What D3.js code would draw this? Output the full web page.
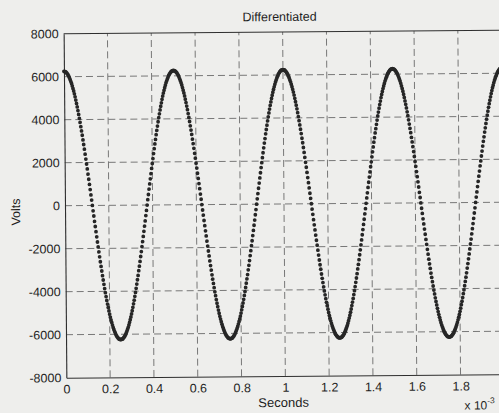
<!DOCTYPE html>
<html>
<head>
<meta charset="utf-8">
<script src="https://cdn.jsdelivr.net/npm/d3@7"></script>
<style>
    html, body { margin: 0; padding: 0; background: #eeeeec; overflow: hidden; }
    svg { display: block; }
</style>
</head>
<body>
<div id="chart"></div>
<script>
// axis ticks (seconds are in units of 10^-3); the "2" label falls off the scan
const xTicks = [0, 0.2, 0.4, 0.6, 0.8, 1, 1.2, 1.4, 1.6, 1.8, 2];
const xTickLabels = ["0", "0.2", "0.4", "0.6", "0.8", "1", "1.2", "1.4", "1.6", "1.8", ""];
const yTicks = [-8000, -6000, -4000, -2000, 0, 2000, 4000, 6000, 8000];
const yTickLabels = ["-8000", "-6000", "-4000", "-2000", "0", "2000", "4000", "6000", "8000"];

// time between two samples, x 10^-3 s
const sampleStep = 0.003125;

// sampled volts, one cycle (0.5 x 10^-3 s) per array
const cycle1 = [6250,6240,6230,6210,6170,6130,6080,6020,5940,5860,5770,5680,5570,5450,5330,5200,5060,4910,4750,4590,4420,4240,4060,3870,3670,3470,3270,3050,2840,2620,2390,2160,1930,1700,1460,1220,980,740,490,250,0,
    -250,-490,-740,-980,-1220,-1460,-1700,-1930,-2160,-2390,-2620,-2840,-3050,-3270,-3470,-3670,-3870,-4060,-4240,-4420,-4590,-4750,-4910,-5060,-5200,-5330,-5450,-5570,-5680,-5770,-5860,-5940,-6020,-6080,-6130,-6170,-6210,-6230,-6240,-6250,
    -6240,-6230,-6210,-6170,-6130,-6080,-6020,-5940,-5860,-5770,-5680,-5570,-5450,-5330,-5200,-5060,-4910,-4750,-4590,-4420,-4240,-4060,-3870,-3670,-3470,-3270,-3050,-2840,-2620,-2390,-2160,-1930,-1700,-1460,-1220,-980,-740,-490,-250,0,
    250,490,740,980,1220,1460,1700,1930,2160,2390,2620,2840,3050,3270,3470,3670,3870,4060,4240,4420,4590,4750,4910,5060,5200,5330,5450,5570,5680,5770,5860,5940,6020,6080,6130,6170,6210,6230,6240];
const cycle2 = [6250,6240,6230,6210,6170,6130,6080,6020,5940,5860,5770,5680,5570,5450,5330,5200,5060,4910,4750,4590,4420,4240,4060,3870,3670,3470,3270,3050,2840,2620,2390,2160,1930,1700,1460,1220,980,740,490,250,0,
    -250,-490,-740,-980,-1220,-1460,-1700,-1930,-2160,-2390,-2620,-2840,-3050,-3270,-3470,-3670,-3870,-4060,-4240,-4420,-4590,-4750,-4910,-5060,-5200,-5330,-5450,-5570,-5680,-5770,-5860,-5940,-6020,-6080,-6130,-6170,-6210,-6230,-6240,-6250,
    -6240,-6230,-6210,-6170,-6130,-6080,-6020,-5940,-5860,-5770,-5680,-5570,-5450,-5330,-5200,-5060,-4910,-4750,-4590,-4420,-4240,-4060,-3870,-3670,-3470,-3270,-3050,-2840,-2620,-2390,-2160,-1930,-1700,-1460,-1220,-980,-740,-490,-250,0,
    250,490,740,980,1220,1460,1700,1930,2160,2390,2620,2840,3050,3270,3470,3670,3870,4060,4240,4420,4590,4750,4910,5060,5200,5330,5450,5570,5680,5770,5860,5940,6020,6080,6130,6170,6210,6230,6240];
const cycle3 = [6250,6240,6230,6210,6170,6130,6080,6020,5940,5860,5770,5680,5570,5450,5330,5200,5060,4910,4750,4590,4420,4240,4060,3870,3670,3470,3270,3050,2840,2620,2390,2160,1930,1700,1460,1220,980,740,490,250,0,
    -250,-490,-740,-980,-1220,-1460,-1700,-1930,-2160,-2390,-2620,-2840,-3050,-3270,-3470,-3670,-3870,-4060,-4240,-4420,-4590,-4750,-4910,-5060,-5200,-5330,-5450,-5570,-5680,-5770,-5860,-5940,-6020,-6080,-6130,-6170,-6210,-6230,-6240,-6250,
    -6240,-6230,-6210,-6170,-6130,-6080,-6020,-5940,-5860,-5770,-5680,-5570,-5450,-5330,-5200,-5060,-4910,-4750,-4590,-4420,-4240,-4060,-3870,-3670,-3470,-3270,-3050,-2840,-2620,-2390,-2160,-1930,-1700,-1460,-1220,-980,-740,-490,-250,0,
    250,490,740,980,1220,1460,1700,1930,2160,2390,2620,2840,3050,3270,3470,3670,3870,4060,4240,4420,4590,4750,4910,5060,5200,5330,5450,5570,5680,5770,5860,5940,6020,6080,6130,6170,6210,6230,6240];
const cycle4 = [6250,6240,6230,6210,6170,6130,6080,6020,5940,5860,5770,5680,5570,5450,5330,5200,5060,4910,4750,4590,4420,4240,4060,3870,3670,3470,3270,3050,2840,2620,2390,2160,1930,1700,1460,1220,980,740,490,250,0,
    -250,-490,-740,-980,-1220,-1460,-1700,-1930,-2160,-2390,-2620,-2840,-3050,-3270,-3470,-3670,-3870,-4060,-4240,-4420,-4590,-4750,-4910,-5060,-5200,-5330,-5450,-5570,-5680,-5770,-5860,-5940,-6020,-6080,-6130,-6170,-6210,-6230,-6240,-6250,
    -6240,-6230,-6210,-6170,-6130,-6080,-6020,-5940,-5860,-5770,-5680,-5570,-5450,-5330,-5200,-5060,-4910,-4750,-4590,-4420,-4240,-4060,-3870,-3670,-3470,-3270,-3050,-2840,-2620,-2390,-2160,-1930,-1700,-1460,-1220,-980,-740,-490,-250,0,
    250,490,740,980,1220,1460,1700,1930,2160,2390,2620,2840,3050,3270,3470,3670,3870,4060,4240,4420,4590,4750,4910,5060,5200,5330,5450,5570,5680,5770,5860,5940,6020,6080,6130,6170,6210,6230,6240];
const lastSample = [6250];

const width = 499, height = 413;
const plot = { left: 65, right: 503, top: 32, bottom: 376 };
const font = "'Liberation Sans', Arial, sans-serif";

/**
 * Builds the list of dots, one per sample.
 */
function buildSamples() {
    const volts = [].concat(cycle1, cycle2, cycle3, cycle4, lastSample);
    return volts.map((v, i) => ({ t: i * sampleStep, v: v }));
}

function renderChart(container) {
    const svg = d3.select(container)
        .append("svg")
        .attr("width", width)
        .attr("height", height)
        .style("background", "#eeeeec");

    // the scan is a little crooked
    const chart = svg.append("g")
        .attr("transform", "rotate(-0.45, 280, 205)");

    const x = d3.scaleLinear().domain([0, 2]).range([plot.left, plot.right]);
    const y = d3.scaleLinear().domain([-8000, 8000]).range([plot.bottom, plot.top]);

    renderGrid(chart, x, y);
    renderAxes(chart, x, y);
    renderDots(chart, x, y, buildSamples());
    renderLabels(chart);
}

function renderGrid(chart, x, y) {
    const grid = chart.append("g").attr("class", "grid")
        .attr("stroke", "#6a6a6a")
        .attr("stroke-width", 0.9)
        .attr("stroke-dasharray", "7,4");

    grid.selectAll("line.gx")
        .data(xTicks.slice(1))
        .enter().append("line")
        .attr("class", "gx")
        .attr("x1", d => x(d)).attr("x2", d => x(d))
        .attr("y1", plot.bottom).attr("y2", plot.top);

    grid.selectAll("line.gy")
        .data(yTicks.slice(1, -1))
        .enter().append("line")
        .attr("class", "gy")
        .attr("x1", plot.left).attr("x2", plot.right)
        .attr("y1", d => y(d)).attr("y2", d => y(d));
}

function renderAxes(chart, x, y) {
    const xAxis = d3.axisBottom(x)
        .tickValues(xTicks)
        .tickFormat((d, i) => xTickLabels[i])
        .tickSize(0)
        .tickPadding(7);

    const yAxis = d3.axisLeft(y)
        .tickValues(yTicks)
        .tickFormat((d, i) => yTickLabels[i])
        .tickSize(0)
        .tickPadding(5);

    const gx = chart.append("g")
        .attr("transform", `translate(0,${plot.bottom})`)
        .call(xAxis);
    const gy = chart.append("g")
        .attr("transform", `translate(${plot.left},0)`)
        .call(yAxis);

    [gx, gy].forEach(g => {
        g.select(".domain").attr("stroke", "#2e2e2e").attr("stroke-width", 1.1);
        g.selectAll("text")
            .style("font-family", font)
            .style("font-size", "12.5px")
            .attr("fill", "#1e1e1e");
    });

    // box on the top and the right side
    chart.append("path")
        .attr("fill", "none")
        .attr("stroke", "#2e2e2e")
        .attr("stroke-width", 1.1)
        .attr("d", `M${plot.left},${plot.top}H${plot.right}V${plot.bottom}`);
}

function renderDots(chart, x, y, samples) {
    chart.append("g")
        .attr("class", "dots")
        .attr("fill", "#262626")
        .selectAll("circle")
        .data(samples)
        .enter().append("circle")
        .attr("cx", d => x(d.t))
        .attr("cy", d => y(d.v))
        .attr("r", 1.9);
}

function renderLabels(chart) {
    const text = (sel) => sel
        .style("font-family", font)
        .attr("fill", "#1e1e1e");

    chart.append("text").call(text)
        .attr("x", 281).attr("y", 21)
        .attr("text-anchor", "middle")
        .style("font-size", "12.5px")
        .text("Differentiated");

    chart.append("text").call(text)
        .attr("x", 282).attr("y", 407)
        .attr("text-anchor", "middle")
        .style("font-size", "13px")
        .text("Seconds");

    chart.append("text").call(text)
        .attr("transform", "translate(20,210) rotate(-90)")
        .attr("text-anchor", "middle")
        .style("font-size", "12.5px")
        .text("Volts");

    // exponent label pulled in a little so it stays whole
    const mult = chart.append("text").call(text)
        .attr("x", 463).attr("y", 411)
        .style("font-size", "12px");
    mult.append("tspan").text("x 10");
    mult.append("tspan").attr("dy", -6).style("font-size", "8.5px").text("-3");
}

renderChart(document.getElementById("chart"));
</script>
</body>
</html>
